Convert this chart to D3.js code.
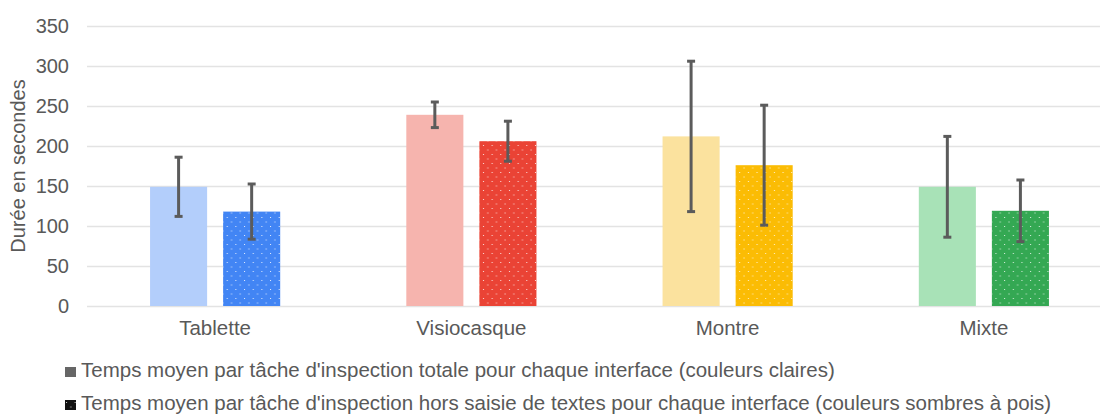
<!DOCTYPE html>
<html>
<head>
<meta charset="utf-8">
<script src="https://cdn.jsdelivr.net/npm/d3@7"></script>
<style>
  html, body { margin: 0; padding: 0; background: #fff; }
  svg { display: block; font-family: "Liberation Sans", Arial, sans-serif; }
</style>
</head>
<body>
<svg id="chart" width="1100" height="414"></svg>
<script>
const categories = ["Tablette", "Visiocasque", "Montre", "Mixte"];
const totalMeans = [149, 239, 212, 149];
const totalErrors = [37, 16, 94, 63];
const textFreeMeans = [118, 206, 176, 119];
const textFreeErrors = [34.5, 25, 75, 38.5];
const yTicks = [0, 50, 100, 150, 200, 250, 300, 350];
const lightColors = ["#b3cefb", "#f6b4ae", "#fbe29e", "#a8e2b7"];
const darkColors = ["#4285f4", "#ea4335", "#fbbc04", "#34a853"];
const legendLabels = [
  "Temps moyen par tâche d'inspection totale pour chaque interface (couleurs claires)",
  "Temps moyen par tâche d'inspection hors saisie de textes pour chaque interface (couleurs sombres à pois)"
];
const yTitle = "Durée en secondes";

const svg = d3.select("#chart");
const textColor = "#595959";
const gridColor = "#e3e3e3";
const errColor = "#5b5b5b";

const defs = svg.append("defs");
const pat = defs.append("pattern")
  .attr("id", "dots")
  .attr("patternUnits", "userSpaceOnUse")
  .attr("width", 8.67).attr("height", 9);
pat.append("rect").attr("x", 1).attr("y", 1).attr("width", 1).attr("height", 1).attr("fill", "#fff").attr("fill-opacity", 0.85);
pat.append("rect").attr("x", 5.33).attr("y", 5.5).attr("width", 1).attr("height", 1).attr("fill", "#fff").attr("fill-opacity", 0.85);

const x0 = d3.scaleBand().domain(categories).range([87, 1112]).paddingInner(0).paddingOuter(0);
const x1 = d3.scaleBand().domain([0, 1]).range([0, x0.bandwidth()]).paddingInner(0.219).paddingOuter(0.863);
const y = d3.scaleLinear().domain([0, 350]).range([306, 26]);

// gridlines
const yAxis = d3.axisLeft(y).tickValues(yTicks).tickSize(-(1112 - 87)).tickPadding(18);
const gy = svg.append("g").attr("transform", "translate(87,0)").call(yAxis);
gy.select(".domain").remove();
gy.selectAll(".tick line").attr("stroke", gridColor).attr("stroke-width", 1.5);
gy.selectAll(".tick text").attr("fill", textColor).attr("font-size", 20).attr("font-family", "Liberation Sans, Arial, sans-serif");

// x axis labels
const xAxis = d3.axisBottom(x0).tickSize(0).tickPadding(14);
const gx = svg.append("g").attr("transform", "translate(0,306)").call(xAxis);
gx.select(".domain").remove();
gx.selectAll(".tick text").attr("fill", textColor).attr("font-size", 20.5).attr("font-family", "Liberation Sans, Arial, sans-serif");

// bars
const groups = svg.append("g").selectAll("g").data(categories).join("g")
  .attr("transform", d => `translate(${x0(d)},0)`);

groups.append("rect")
  .attr("x", x1(0)).attr("width", x1.bandwidth())
  .attr("y", (d, i) => y(totalMeans[i]))
  .attr("height", (d, i) => y(0) - y(totalMeans[i]))
  .attr("fill", (d, i) => lightColors[i]);

groups.append("rect")
  .attr("x", x1(1)).attr("width", x1.bandwidth())
  .attr("y", (d, i) => y(textFreeMeans[i]))
  .attr("height", (d, i) => y(0) - y(textFreeMeans[i]))
  .attr("fill", (d, i) => darkColors[i]);

groups.append("rect")
  .attr("x", x1(1)).attr("width", x1.bandwidth())
  .attr("y", (d, i) => y(textFreeMeans[i]))
  .attr("height", (d, i) => y(0) - y(textFreeMeans[i]))
  .attr("fill", "url(#dots)");

// error bars
function drawErr(g, idx, means, errs) {
  const cx = x1(idx) + x1.bandwidth() / 2;
  g.append("line")
    .attr("x1", cx).attr("x2", cx)
    .attr("y1", (d, i) => y(means[i] + errs[i]))
    .attr("y2", (d, i) => y(means[i] - errs[i]))
    .attr("stroke", errColor).attr("stroke-width", 3);
  [1, -1].forEach(s => {
    g.append("line")
      .attr("x1", cx - 4).attr("x2", cx + 4)
      .attr("y1", (d, i) => y(means[i] + s * errs[i]))
      .attr("y2", (d, i) => y(means[i] + s * errs[i]))
      .attr("stroke", errColor).attr("stroke-width", 3);
  });
}
drawErr(groups, 0, totalMeans, totalErrors);
drawErr(groups, 1, textFreeMeans, textFreeErrors);

// y title
svg.append("text")
  .attr("transform", "translate(25,166) rotate(-90)")
  .attr("text-anchor", "middle")
  .attr("fill", textColor)
  .attr("font-size", 20)
  .text(yTitle);

// legend
const legendBaselines = [377, 410];
const lg = svg.append("g").selectAll("g").data(legendLabels).join("g")
  .attr("transform", (d, i) => `translate(65,${legendBaselines[i]})`);
lg.append("rect").attr("x", 0).attr("y", -10).attr("width", 11).attr("height", 10)
  .attr("fill", (d, i) => i === 0 ? "#666" : "#111");
lg.filter((d, i) => i === 1).append("rect").attr("x", 0).attr("y", -10).attr("width", 11).attr("height", 10)
  .attr("fill", "url(#dots)");
lg.append("text").attr("x", 16)
  .attr("fill", textColor).attr("font-size", 20.5)
  .text(d => d);
</script>
</body>
</html>
